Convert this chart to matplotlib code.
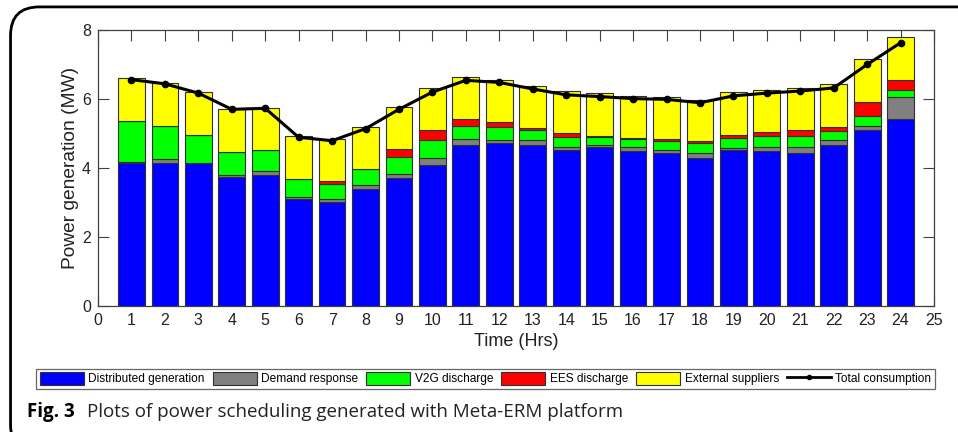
import numpy as np
import matplotlib
matplotlib.use("Agg")
import matplotlib.pyplot as plt
from matplotlib.patches import FancyBboxPatch, Patch
from matplotlib.lines import Line2D

plt.rcParams['font.family'] = ['Liberation Sans', 'DejaVu Sans']

# hourly power scheduling (MW)
hours = np.arange(1, 25)
distributed = [4.13, 4.15, 4.13, 3.74, 3.81, 3.10, 3.02, 3.40, 3.71, 4.09, 4.66, 4.71,
               4.68, 4.52, 4.60, 4.50, 4.42, 4.30, 4.52, 4.49, 4.44, 4.66, 5.09, 5.42]
demand_resp = [0.05, 0.12, 0.02, 0.07, 0.11, 0.06, 0.07, 0.12, 0.13, 0.19, 0.17, 0.10,
               0.12, 0.09, 0.08, 0.11, 0.10, 0.12, 0.07, 0.11, 0.17, 0.15, 0.14, 0.64]
v2g = [1.18, 0.95, 0.80, 0.66, 0.60, 0.53, 0.46, 0.44, 0.48, 0.53, 0.40, 0.38,
       0.29, 0.29, 0.22, 0.24, 0.27, 0.29, 0.28, 0.33, 0.31, 0.25, 0.28, 0.21]
ees = [0.00, 0.00, 0.00, 0.00, 0.00, 0.00, 0.06, 0.00, 0.24, 0.29, 0.20, 0.14,
       0.07, 0.12, 0.03, 0.03, 0.06, 0.06, 0.09, 0.11, 0.18, 0.12, 0.40, 0.28]
external = [1.24, 1.25, 1.25, 1.24, 1.23, 1.25, 1.23, 1.24, 1.22, 1.22, 1.21, 1.23,
            1.23, 1.22, 1.23, 1.21, 1.22, 1.20, 1.23, 1.22, 1.21, 1.24, 1.24, 1.24]
total_cons = [6.56, 6.44, 6.17, 5.70, 5.73, 4.89, 4.79, 5.14, 5.70, 6.20, 6.54, 6.48,
              6.29, 6.12, 6.07, 6.01, 5.99, 5.89, 6.09, 6.17, 6.23, 6.32, 7.00, 7.63]

series = [
    ("Distributed generation", distributed, (0, 0, 1)),
    ("Demand response", demand_resp, (0.5, 0.5, 0.5)),
    ("V2G discharge", v2g, (0, 1, 0)),
    ("EES discharge", ees, (1, 0, 0)),
    ("External suppliers", external, (1, 1, 0)),
]

fig = plt.figure(figsize=(9.58, 4.32), dpi=100)

# outer frame with rounded corner
frame = FancyBboxPatch((0.011, -0.05), 1.2, 1.034, boxstyle="round,pad=0,rounding_size=0.03",
                       transform=fig.transFigure, fill=False, edgecolor="black", lw=2.0,
                       mutation_aspect=958 / 432)
fig.patches.append(frame)

ax = fig.add_axes([0.1023, 0.2917, 0.8727, 0.6389])
axc = "#404040"

bottom = np.zeros(len(hours))
for name, vals, col in series:
    ax.bar(hours, vals, width=0.8, bottom=bottom, color=col, edgecolor="#303030",
           linewidth=0.8, zorder=2)
    bottom += np.array(vals)

ax.plot(hours, total_cons, color="black", lw=2.2, marker="o", markersize=4.5, zorder=3)

ax.set_xlim(0, 25)
ax.set_ylim(0, 8)
ax.set_xticks(np.arange(0, 26))
ax.set_yticks([0, 2, 4, 6, 8])
ax.tick_params(direction="in", length=8, width=0.8, colors=axc, labelcolor="#222222",
               labelsize=11.5, top=True, right=True, pad=5)
for s in ax.spines.values():
    s.set_color(axc)
    s.set_linewidth(0.9)
ax.set_xlabel("Time (Hrs)", fontsize=13, color="#222222", labelpad=4)
ax.set_ylabel("Power generation (MW)", fontsize=13.8, color="#222222", labelpad=2)

handles = [Patch(facecolor=col, edgecolor="#303030", linewidth=0.8, label=name)
           for name, _, col in series]
handles.append(Line2D([], [], color="black", lw=2, marker="o", markersize=3,
                      label="Total consumption"))
leg = fig.legend(handles=handles, loc="lower left",
                 bbox_to_anchor=(36 / 958, 1 - 389 / 432, 899 / 958, 20 / 432),
                 mode="expand", ncol=6, fontsize=8.6, frameon=True, fancybox=False,
                 edgecolor="#404040", handlelength=3.7, handleheight=1.2,
                 handletextpad=0.35, columnspacing=0.25, borderpad=0.3, borderaxespad=0)
leg.get_frame().set_linewidth(0.9)

fig.text(0.028, 0.046, "Fig. 3", fontsize=13.5, fontweight="bold", family="Open Sans",
         va="center", ha="left")
fig.text(0.0905, 0.046, "Plots of power scheduling generated with Meta-ERM platform",
         fontsize=13.5, family="Open Sans", va="center", ha="left", color="#222222")

fig.savefig("out.png", dpi=100)
